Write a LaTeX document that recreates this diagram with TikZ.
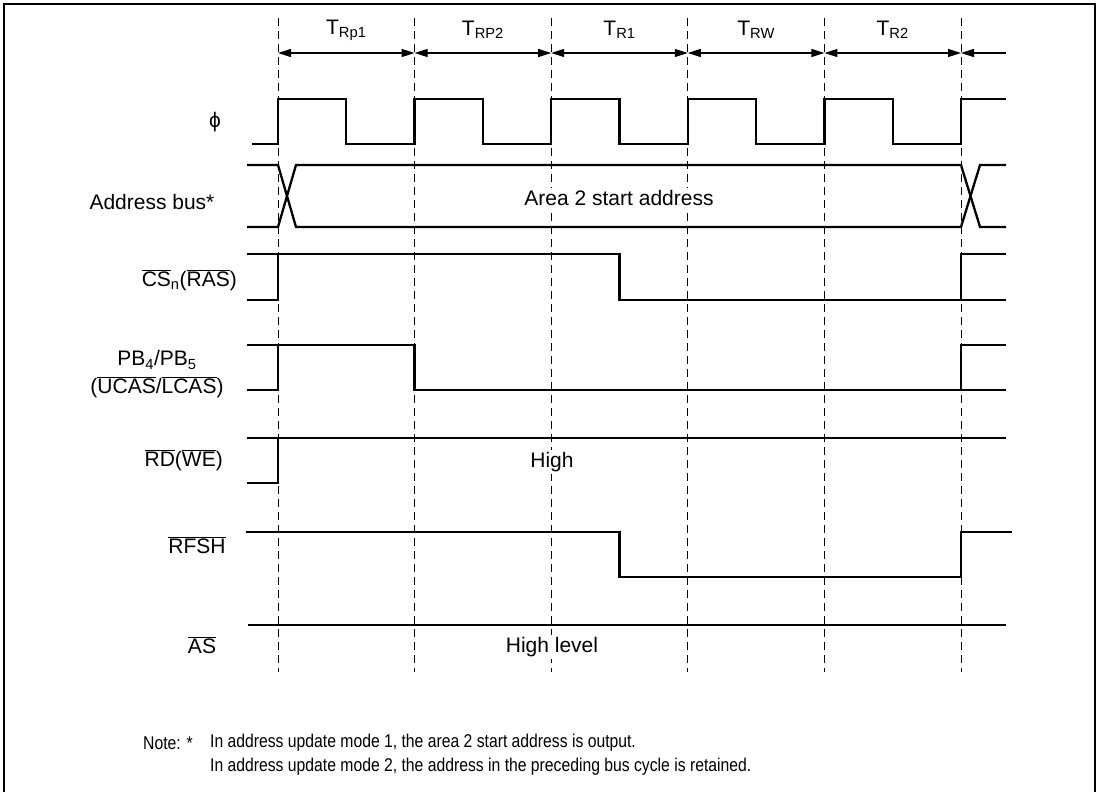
\documentclass[tikz,border=0pt]{standalone}
\usepackage{fontspec}
\setmainfont{Liberation Sans}
\newfontfamily\notefont[FakeStretch=0.85]{Liberation Sans}
\usetikzlibrary{arrows.meta,positioning,calc}
\newcommand{\nbar}[1]{$\overline{\mbox{#1}}$}

\begin{document}
\begin{tikzpicture}[x=1pt, y=-1pt,
    sig/.style={line width=2.3pt, line join=miter},
    grid/.style={line width=0.9pt, dash pattern=on 8pt off 5pt},
    span/.style={{Triangle[length=13pt,width=8pt]}-{Triangle[length=13pt,width=8pt]}, line width=1.2pt},
    lbl/.style={font=\fontsize{21}{25}\selectfont, inner sep=0pt},
    lvl/.style={lbl, fill=white, inner sep=2pt},
    note/.style={font=\notefont\fontsize{18.5}{22}\selectfont, inner sep=0pt, anchor=west}]

    \useasboundingbox (0,0) rectangle (1100,792);
    \draw[line width=1.2pt] (4,800) -- (4,4) -- (1095,4) -- (1095,800);

    % State boundaries
    \foreach \i in {0,...,5} {
        \coordinate (t\i) at ({278+136.6*\i},53);
        \draw[grid] ({278+136.6*\i},18) -- ({278+136.6*\i},672);
    }
    \coordinate (tend) at (1006,53);

    % Cycle spans
    \foreach \i/\j/\txt in {0/1/T\textsubscript{Rp1}, 1/2/T\textsubscript{RP2},
                            2/3/T\textsubscript{R1}, 3/4/T\textsubscript{RW}, 4/5/T\textsubscript{R2}} {
        \draw[span] (t\i) -- (t\j);
        \node[lbl] (s\i) at ($(t\i)!0.5!(t\j)+(0,-23)$) {\txt};
    }
    \draw[{Triangle[length=13pt,width=8pt]}-, line width=1.2pt] (t5) -- (tend);

    % Clock
    \draw[sig] (252,144) \foreach \i in {0,...,4} {
        -- ({278+136.6*\i},144) -- ({278+136.6*\i},99)
        -- ({346.3+136.6*\i},99) -- ({346.3+136.6*\i},144) }
        -- (961,144) -- (961,99) -- (1006,99);

    % Address bus
    \draw[sig] (247,165) -- (278,165) -- (296,227) -- (961,227) -- (980,165) -- (1006,165);
    \draw[sig] (247,227) -- (278,227) -- (296,165) -- (961,165) -- (980,227) -- (1006,227);
    \node[lvl] (area) at (619,198) {Area 2 start address};

    % CSn (RAS)
    \draw[sig] (247,254) -- (619.5,254) -- (619.5,300) -- (1006,300);
    \draw[sig] (247,300) -- (278,300) -- (278,254);
    \draw[sig] (961,300) -- (961,254) -- (1006,254);

    % PB4/PB5
    \draw[sig] (247,345) -- (414.6,345) -- (414.6,390) -- (1006,390);
    \draw[sig] (247,390) -- (278,390) -- (278,345);
    \draw[sig] (961,390) -- (961,345) -- (1006,345);

    % RD (WE)
    \draw[sig] (247,438) -- (1006,438);
    \draw[sig] (247,483) -- (278,483) -- (278,438);
    \node[lvl] (high) at (552,462) {High};

    % RFSH
    \draw[sig] (246,532) -- (619.5,532) -- (619.5,577) -- (961,577) -- (961,532) -- (1012,532);

    % AS
    \draw[sig] (248,625) -- (1006,625);
    \node[lvl] (hlevel) at (552,647) {High level};

    % Signal names
    \node[lbl] (phi) at (215,122) {ϕ};
    \node[lbl] (addr) at (152,202) {Address bus*};
    \node[lbl, anchor=east] (cs) at (237,280) {\nbar{CS}\textsubscript{n}(\nbar{RAS})};
    \node[lbl] (pb) at (157,360) {PB\textsubscript{4}/PB\textsubscript{5}};
    \node[lbl, below=7pt of pb] (cas) {(\nbar{UCAS}/\nbar{LCAS})};
    \node[lbl, anchor=east] (rd) at (223,460) {\nbar{RD}(\nbar{WE})};
    \node[lbl] (rfsh) at (197,545) {\nbar{RFSH}};
    \node[lbl] (as) at (202,645) {\nbar{AS}};

    % Note
    \node[note] (nt) at (143,743) {Note: *};
    \node[note] (n1) at (210,743) {In address update mode 1, the area 2 start address is output.};
    \node[note] (n2) at (210,767) {In address update mode 2, the address in the preceding bus cycle is retained.};
\end{tikzpicture}
\end{document}
